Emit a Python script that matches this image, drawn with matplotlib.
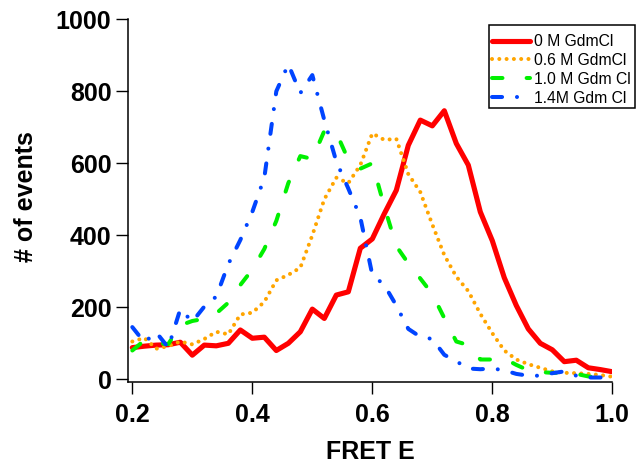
import numpy as np
import matplotlib
matplotlib.use("Agg")
import matplotlib.pyplot as plt
from matplotlib.patches import Rectangle

plt.rcParams['font.family'] = ['Liberation Sans', 'DejaVu Sans']

fret_e = np.round(np.arange(0.20, 1.0001, 0.02), 2)

red_0M = [88, 92, 95, 96, 103, 67, 95, 93, 100, 137, 114, 117, 80, 100, 132, 195, 169, 234, 243, 364,
          390, 460, 525, 650, 720, 704, 746, 655, 595, 465, 385, 282, 205, 140, 100, 82, 49, 53, 32, 27, 21]
orange_06M = [105, 115, 85, 92, 105, 97, 112, 132, 125, 180, 185, 215, 275, 290, 310, 400, 500, 560, 545, 595,
              683, 665, 668, 570, 520, 430, 345, 285, 245, 182, 128, 80, 55, 42, 32, 22, 18, 17, 15, 12, 7]
green_10M = [80, 108, 100, 98, 150, 162, 168, 183, 213, 262, 305, 362, 440, 545, 620, 612, 690, 685, 610, 585,
             600, 480, 370, 322, 280, 237, 170, 105, 95, 55, 55, 58, 40, 25, 20, 18, 18, 15, 8, 5, 5]
blue_14M = [145, 103, 130, 88, 195, 160, 202, 230, 320, 387, 465, 560, 800, 875, 795, 845, 720, 605, 530, 450,
            290, 262, 205, 140, 118, 112, 68, 50, 30, 28, 30, 25, 15, 10, 10, 17, 22, 10, 5, 5, 5]

labels = ['0 M GdmCl', '0.6 M GdmCl', '1.0 M Gdm Cl', '1.4M Gdm Cl']
xticks = [0.2, 0.4, 0.6, 0.8, 1.0]
yticks = [0, 200, 400, 600, 800, 1000]

fig = plt.figure(figsize=(6.36, 4.66), dpi=100)
W, H = 636, 466
left, right, bottom, top = 128.3, 612.3, 382, 19.3
ax = fig.add_axes([left / W, 1 - bottom / H, (right - left) / W, (bottom - top) / H])

ax.plot(fret_e, red_0M, color='#ff0000', lw=3.7, solid_capstyle='round', solid_joinstyle='round',
        label=labels[0])
ax.plot(fret_e, orange_06M, color='#ffa500', lw=2.9, linestyle=(0, (0.01, 1.8)),
        dash_capstyle='round', label=labels[1])
ax.plot(fret_e, green_10M, color='#00f000', lw=2.9, linestyle=(0, (2.6, 6.0)),
        dash_capstyle='round', label=labels[2])
ax.plot(fret_e, blue_14M, color='#0044ff', lw=2.9, linestyle=(0, (2.5, 3.7, 0.01, 3.7)),
        dash_capstyle='round', label=labels[3])

ax.set_xlim(0.1933, 1.0)
ax.set_ylim(-7.5, 1000)
ax.set_xticks(xticks)
ax.set_xticklabels([f'{v:.1f}' for v in xticks])
ax.set_yticks(yticks)
ax.set_yticklabels([str(v) for v in yticks])

for s in ['top', 'right']:
    ax.spines[s].set_visible(False)
for s in ['left', 'bottom']:
    ax.spines[s].set_linewidth(1.1)

ax.tick_params(axis='both', direction='out', length=8.6, width=1.0, labelsize=18)
ax.tick_params(axis='x', pad=6.5)
ax.tick_params(axis='y', pad=3.5)
for lab in ax.get_xticklabels() + ax.get_yticklabels():
    lab.set_fontweight('bold')

ax.set_xlabel('FRET E', fontsize=18, fontweight='bold')
ax.set_ylabel('# of events', fontsize=18, fontweight='bold')
ax.xaxis.set_label_coords(0.5, -0.16)
ax.yaxis.set_label_coords(-0.186, 0.51)

# legend frame drawn as a figure rectangle
fig.patches.append(Rectangle((489 / W, 1 - 108 / H), (635 - 489) / W, (108 - 25) / H,
                             transform=fig.transFigure, facecolor='white', edgecolor='black',
                             lw=1.1, zorder=5))
leg = fig.legend(loc='upper left', bbox_to_anchor=(492 / W, 1 - 34 / H),
                 frameon=False, handlelength=2.4, handletextpad=0.25, labelspacing=0.25,
                 borderpad=0, borderaxespad=0, prop={'size': 11.3})
leg.set_zorder(6)

fig.savefig('out.png', dpi=100)
